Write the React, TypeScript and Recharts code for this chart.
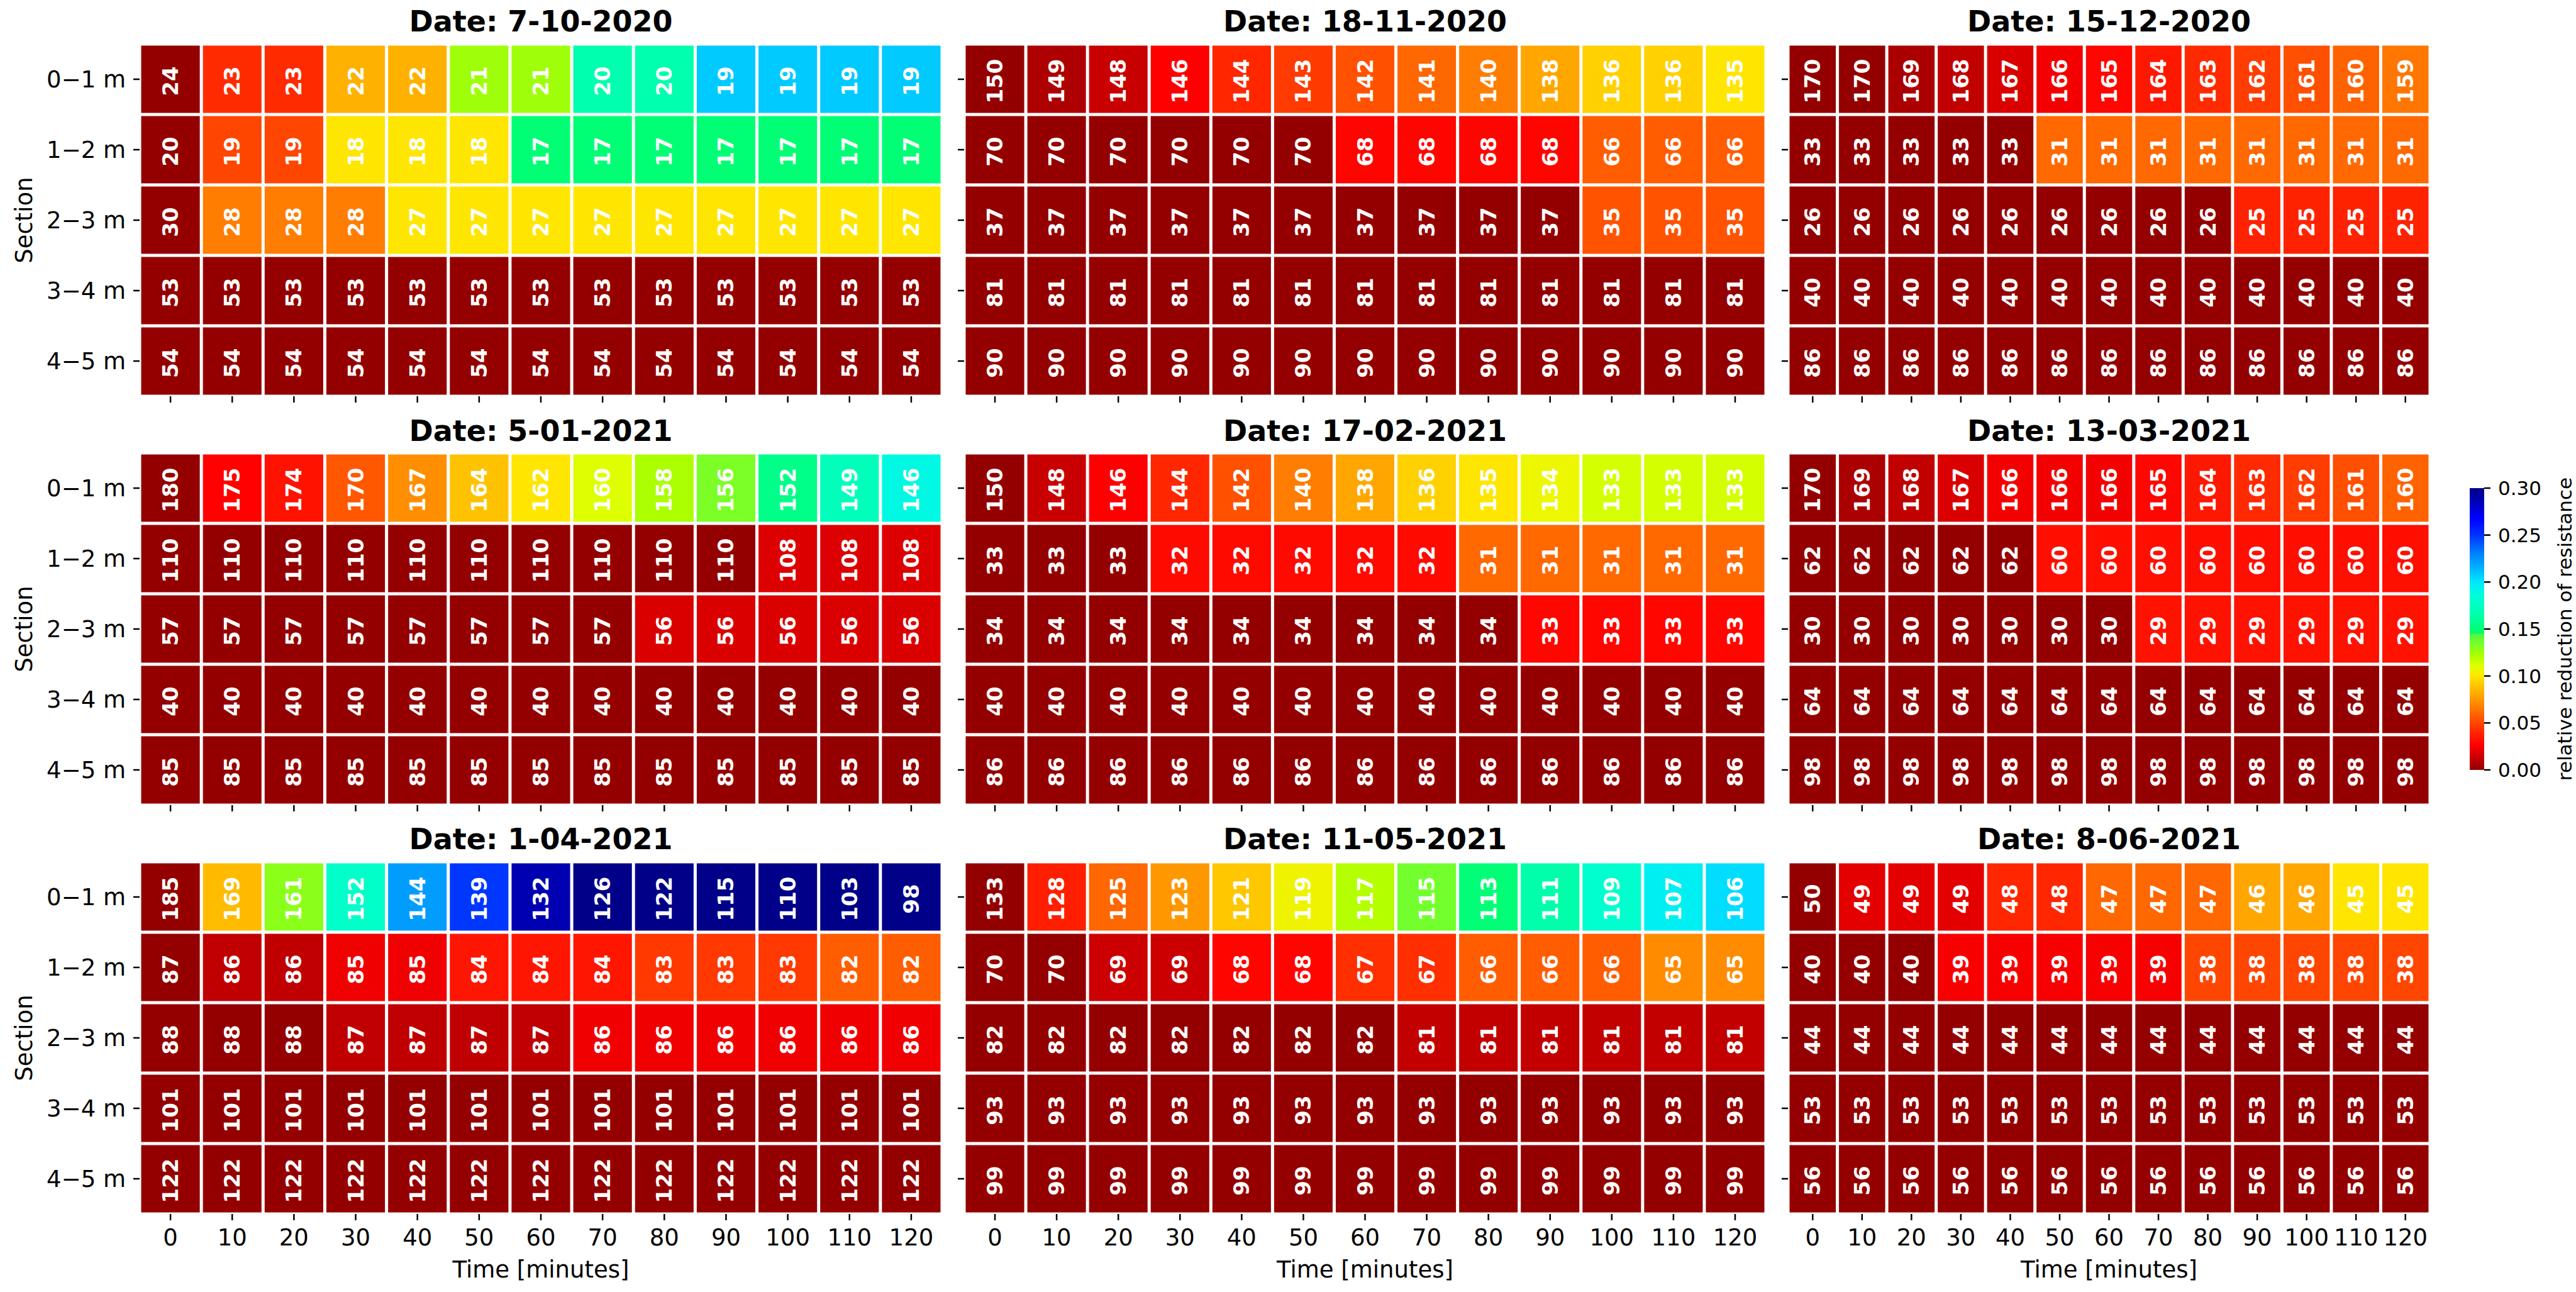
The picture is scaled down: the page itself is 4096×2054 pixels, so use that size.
import React from 'react';
import { ScatterChart, Scatter, XAxis, YAxis, BarChart, Bar } from 'recharts';

// ---------- data ----------
const TIMES = [0, 10, 20, 30, 40, 50, 60, 70, 80, 90, 100, 110, 120];
const SECTIONS = ['0−1 m', '1−2 m', '2−3 m', '3−4 m', '4−5 m'];
const DATES = ['7-10-2020', '18-11-2020', '15-12-2020', '5-01-2021', '17-02-2021', '13-03-2021', '1-04-2021', '11-05-2021', '8-06-2021'];

const D_07_10_2020 = [
  [24, 23, 23, 22, 22, 21, 21, 20, 20, 19, 19, 19, 19],
  [20, 19, 19, 18, 18, 18, 17, 17, 17, 17, 17, 17, 17],
  [30, 28, 28, 28, 27, 27, 27, 27, 27, 27, 27, 27, 27],
  [53, 53, 53, 53, 53, 53, 53, 53, 53, 53, 53, 53, 53],
  [54, 54, 54, 54, 54, 54, 54, 54, 54, 54, 54, 54, 54],
];
const D_18_11_2020 = [
  [150, 149, 148, 146, 144, 143, 142, 141, 140, 138, 136, 136, 135],
  [70, 70, 70, 70, 70, 70, 68, 68, 68, 68, 66, 66, 66],
  [37, 37, 37, 37, 37, 37, 37, 37, 37, 37, 35, 35, 35],
  [81, 81, 81, 81, 81, 81, 81, 81, 81, 81, 81, 81, 81],
  [90, 90, 90, 90, 90, 90, 90, 90, 90, 90, 90, 90, 90],
];
const D_15_12_2020 = [
  [170, 170, 169, 168, 167, 166, 165, 164, 163, 162, 161, 160, 159],
  [33, 33, 33, 33, 33, 31, 31, 31, 31, 31, 31, 31, 31],
  [26, 26, 26, 26, 26, 26, 26, 26, 26, 25, 25, 25, 25],
  [40, 40, 40, 40, 40, 40, 40, 40, 40, 40, 40, 40, 40],
  [86, 86, 86, 86, 86, 86, 86, 86, 86, 86, 86, 86, 86],
];
const D_05_01_2021 = [
  [180, 175, 174, 170, 167, 164, 162, 160, 158, 156, 152, 149, 146],
  [110, 110, 110, 110, 110, 110, 110, 110, 110, 110, 108, 108, 108],
  [57, 57, 57, 57, 57, 57, 57, 57, 56, 56, 56, 56, 56],
  [40, 40, 40, 40, 40, 40, 40, 40, 40, 40, 40, 40, 40],
  [85, 85, 85, 85, 85, 85, 85, 85, 85, 85, 85, 85, 85],
];
const D_17_02_2021 = [
  [150, 148, 146, 144, 142, 140, 138, 136, 135, 134, 133, 133, 133],
  [33, 33, 33, 32, 32, 32, 32, 32, 31, 31, 31, 31, 31],
  [34, 34, 34, 34, 34, 34, 34, 34, 34, 33, 33, 33, 33],
  [40, 40, 40, 40, 40, 40, 40, 40, 40, 40, 40, 40, 40],
  [86, 86, 86, 86, 86, 86, 86, 86, 86, 86, 86, 86, 86],
];
const D_13_03_2021 = [
  [170, 169, 168, 167, 166, 166, 166, 165, 164, 163, 162, 161, 160],
  [62, 62, 62, 62, 62, 60, 60, 60, 60, 60, 60, 60, 60],
  [30, 30, 30, 30, 30, 30, 30, 29, 29, 29, 29, 29, 29],
  [64, 64, 64, 64, 64, 64, 64, 64, 64, 64, 64, 64, 64],
  [98, 98, 98, 98, 98, 98, 98, 98, 98, 98, 98, 98, 98],
];
const D_01_04_2021 = [
  [185, 169, 161, 152, 144, 139, 132, 126, 122, 115, 110, 103, 98],
  [87, 86, 86, 85, 85, 84, 84, 84, 83, 83, 83, 82, 82],
  [88, 88, 88, 87, 87, 87, 87, 86, 86, 86, 86, 86, 86],
  [101, 101, 101, 101, 101, 101, 101, 101, 101, 101, 101, 101, 101],
  [122, 122, 122, 122, 122, 122, 122, 122, 122, 122, 122, 122, 122],
];
const D_11_05_2021 = [
  [133, 128, 125, 123, 121, 119, 117, 115, 113, 111, 109, 107, 106],
  [70, 70, 69, 69, 68, 68, 67, 67, 66, 66, 66, 65, 65],
  [82, 82, 82, 82, 82, 82, 82, 81, 81, 81, 81, 81, 81],
  [93, 93, 93, 93, 93, 93, 93, 93, 93, 93, 93, 93, 93],
  [99, 99, 99, 99, 99, 99, 99, 99, 99, 99, 99, 99, 99],
];
const D_08_06_2021 = [
  [50, 49, 49, 49, 48, 48, 47, 47, 47, 46, 46, 45, 45],
  [40, 40, 40, 39, 39, 39, 39, 39, 38, 38, 38, 38, 38],
  [44, 44, 44, 44, 44, 44, 44, 44, 44, 44, 44, 44, 44],
  [53, 53, 53, 53, 53, 53, 53, 53, 53, 53, 53, 53, 53],
  [56, 56, 56, 56, 56, 56, 56, 56, 56, 56, 56, 56, 56],
];
const PANEL_DATA = [D_07_10_2020, D_18_11_2020, D_15_12_2020, D_05_01_2021, D_17_02_2021, D_13_03_2021, D_01_04_2021, D_11_05_2021, D_08_06_2021];

const CB_TICKS = [0, 0.05, 0.1, 0.15, 0.2, 0.25, 0.3];
const CB_MAX = 0.3;

// colour map (value -> colour), reversed-jet look
const CMAP_STOPS: [number, string][] = [
  [0.0, '#940000'],
  [0.012, '#c20000'],
  [0.022, '#ee0000'],
  [0.027, '#ff0000'],
  [0.04, '#ff2600'],
  [0.055, '#ff5600'],
  [0.07, '#ff8800'],
  [0.085, '#ffb600'],
  [0.1, '#ffe600'],
  [0.11, '#e2ff00'],
  [0.122, '#acff00'],
  [0.135, '#74ff2c'],
  [0.1445, '#52f440'],
  [0.1455, '#00ff64'],
  [0.165, '#00ffaa'],
  [0.185, '#00ffd8'],
  [0.2, '#00e8ff'],
  [0.215, '#00b2ff'],
  [0.23, '#0082ff'],
  [0.25, '#0032ff'],
  [0.268, '#0000ff'],
  [0.285, '#0000b8'],
  [0.3, '#000088'],
];

const FONT = 'DejaVu Sans, Liberation Sans, sans-serif';

function hex(c: string) {
  return [parseInt(c.slice(1, 3), 16), parseInt(c.slice(3, 5), 16), parseInt(c.slice(5, 7), 16)];
}
function colorFor(v: number) {
  const x = Math.max(0, Math.min(CB_MAX, v));
  for (let i = 1; i < CMAP_STOPS.length; i++) {
    const [v1, c1] = CMAP_STOPS[i];
    if (x <= v1) {
      const [v0, c0] = CMAP_STOPS[i - 1];
      const f = v1 === v0 ? 0 : (x - v0) / (v1 - v0);
      const a = hex(c0);
      const b = hex(c1);
      const m = a.map((q, k) => Math.round(q + (b[k] - q) * f));
      return `rgb(${m[0]},${m[1]},${m[2]})`;
    }
  }
  return CMAP_STOPS[CMAP_STOPS.length - 1][1];
}

// ---------- layout ----------
const PANEL_X = [222, 1533, 2843];
const PANEL_W = [1276, 1275, 1021];
const PANEL_Y = [70, 720, 1370];
const PANEL_H = 560;
const GAP = 5;

const TICK_STYLE = { stroke: '#000', strokeWidth: 2.5 };

function buildCells(grid: number[][]) {
  const out: { t: number; row: number; v: number; red: number }[] = [];
  grid.forEach((rowVals, r) => {
    rowVals.forEach((v, c) => {
      out.push({ t: TIMES[c], row: r, v, red: (rowVals[0] - v) / rowVals[0] });
    });
  });
  return out;
}

function makeShape(cw: number, ch: number) {
  return (props: any) => {
    const { cx, cy, payload } = props;
    if (cx == null || cy == null) return <g />;
    const ty = cy + 3;
    return (
      <g>
        <rect x={cx - cw / 2 + GAP / 2} y={cy - ch / 2 + GAP / 2} width={cw - GAP} height={ch - GAP} fill={colorFor(payload.red)} />
        <text
          x={cx}
          y={ty}
          transform={`rotate(-90 ${cx} ${ty})`}
          textAnchor="middle"
          dominantBaseline="central"
          fill="#ffffff"
          fontWeight="bold"
          fontSize={34}
          fontFamily={FONT}
        >
          {payload.v}
        </text>
      </g>
    );
  };
}

function Panel({ idx }: { idx: number }) {
  const ci = idx % 3;
  const ri = Math.floor(idx / 3);
  const W = PANEL_W[ci];
  const yw = ci === 0 ? 222 : 30;
  const showX = ri === 2;
  const xh = showX ? 80 : 16;
  const cells = buildCells(PANEL_DATA[idx]);
  const shape = makeShape(W / 13, PANEL_H / 5);
  return (
    <div style={{ position: 'absolute', left: PANEL_X[ci] - yw, top: PANEL_Y[ri] }}>
      <ScatterChart width={yw + W + 2} height={PANEL_H + xh} margin={{ top: 0, right: 2, bottom: 0, left: 0 }}>
        <XAxis
          type="number"
          dataKey="t"
          domain={[-5, 125]}
          ticks={TIMES}
          interval={0}
          axisLine={false}
          tickLine={TICK_STYLE}
          tickSize={10}
          tickMargin={14}
          height={xh}
          allowDataOverflow
          tickFormatter={(v: number) => (showX ? String(v) : '')}
          tick={{ fontSize: 37, fill: '#000', fontFamily: FONT }}
        />
        <YAxis
          type="number"
          dataKey="row"
          domain={[-0.5, 4.5]}
          reversed
          ticks={[0, 1, 2, 3, 4]}
          interval={0}
          axisLine={false}
          tickLine={TICK_STYLE}
          tickSize={10}
          tickMargin={12}
          width={yw}
          allowDataOverflow
          tickFormatter={(v: number) => (ci === 0 ? SECTIONS[v] : '')}
          tick={{ fontSize: 37, fill: '#000', fontFamily: FONT }}
        />
        <Scatter data={cells} shape={shape} isAnimationActive={false} />
      </ScatterChart>
    </div>
  );
}

const CB_X = 3927;
const CB_TOP = 776;
const CB_H = 448;
const CB_W = 23;
const CB_DATA = [{ name: 'cb', top: CB_MAX }];

function ColorBar() {
  return (
    <div style={{ position: 'absolute', left: CB_X, top: CB_TOP - 20 }}>
      <BarChart width={CB_W + 120} height={CB_H + 40} data={CB_DATA} margin={{ top: 20, right: 0, bottom: 20, left: 0 }} barCategoryGap={0}>
        <defs>
          <linearGradient id="cbgrad" x1="0" y1="1" x2="0" y2="0">
            {CMAP_STOPS.map(([v, c], i) => (
              <stop key={i} offset={v / CB_MAX} stopColor={c} />
            ))}
          </linearGradient>
        </defs>
        <XAxis dataKey="name" hide />
        <YAxis
          orientation="right"
          type="number"
          domain={[0, CB_MAX]}
          ticks={CB_TICKS}
          interval={0}
          axisLine={false}
          tickLine={TICK_STYLE}
          tickSize={10}
          tickMargin={12}
          width={120}
          tickFormatter={(v: number) => v.toFixed(2)}
          tick={{ fontSize: 31, fill: '#000', fontFamily: FONT }}
        />
        <Bar dataKey="top" fill="url(#cbgrad)" isAnimationActive={false} />
      </BarChart>
    </div>
  );
}

const TITLE_BASE = [50, 701, 1350];
const COL_CENTER = PANEL_X.map((x, i) => x + PANEL_W[i] / 2);

export default function App() {
  return (
    <div style={{ position: 'absolute', left: 0, top: 0, width: 4096, height: 2054, background: '#fff', overflow: 'hidden' }}>
      {PANEL_DATA.map((_, i) => (
        <Panel key={i} idx={i} />
      ))}
      <ColorBar />
      <svg width={4096} height={2054} style={{ position: 'absolute', left: 0, top: 0, pointerEvents: 'none' }}>
        {DATES.map((d, i) => (
          <text
            key={d}
            x={COL_CENTER[i % 3]}
            y={TITLE_BASE[Math.floor(i / 3)]}
            textAnchor="middle"
            fontSize={46}
            fontWeight="bold"
            fontFamily={FONT}
            fill="#000"
          >
            {`Date: ${d}`}
          </text>
        ))}
        {PANEL_Y.map((y, i) => (
          <text
            key={'s' + i}
            x={38}
            y={y + PANEL_H / 2}
            transform={`rotate(-90 38 ${y + PANEL_H / 2})`}
            textAnchor="middle"
            dominantBaseline="central"
            fontSize={37}
            fontFamily={FONT}
            fill="#000"
          >
            Section
          </text>
        ))}
        {COL_CENTER.map((x, i) => (
          <text key={'t' + i} x={x} y={2031} textAnchor="middle" fontSize={37} fontFamily={FONT} fill="#000">
            Time [minutes]
          </text>
        ))}
        <text
          x={4078}
          y={CB_TOP + CB_H / 2}
          transform={`rotate(-90 4078 ${CB_TOP + CB_H / 2})`}
          textAnchor="middle"
          dominantBaseline="central"
          fontSize={31}
          fontFamily={FONT}
          fill="#000"
        >
          relative reduction of resistance
        </text>
      </svg>
    </div>
  );
}
